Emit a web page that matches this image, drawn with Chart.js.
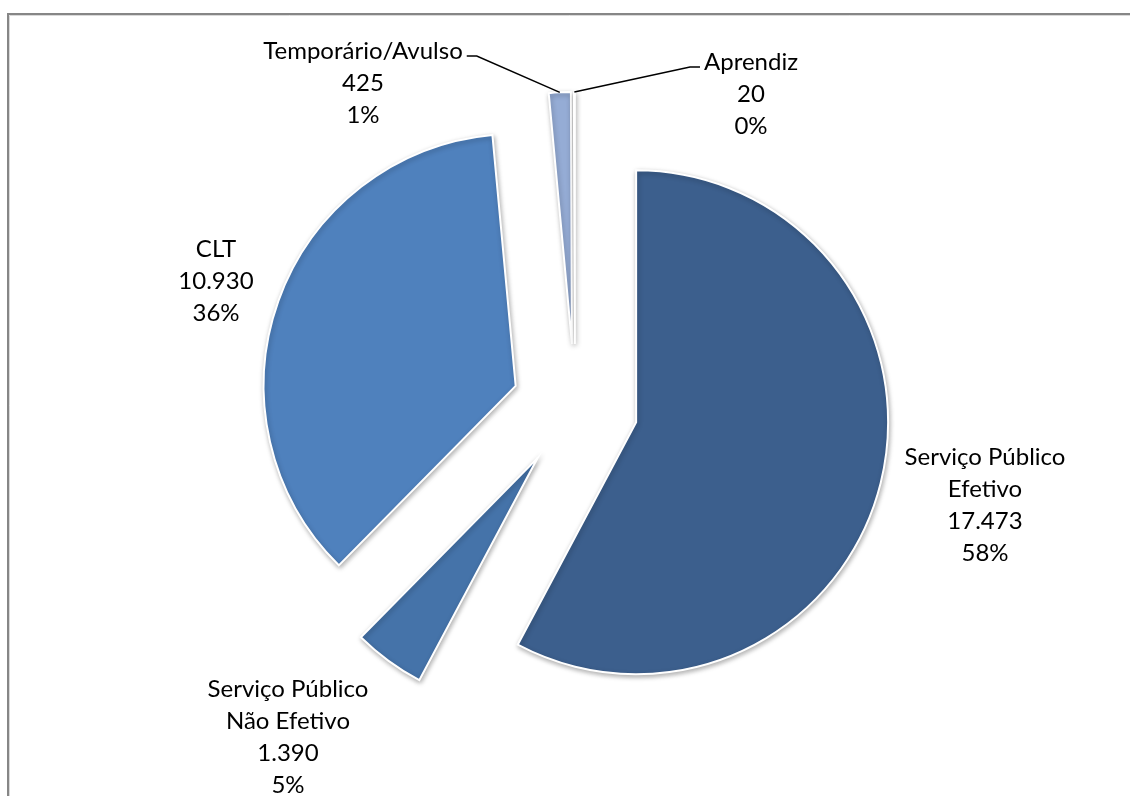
<!DOCTYPE html>
<html lang="pt">
  <head>
    <meta charset="UTF-8" />
    <title>Vínculos</title>
    <script src="https://cdn.jsdelivr.net/npm/chart.js"></script>
    <style>
      body {
        margin: 0;
        background: #fff;
      }
      #pieChart {
        display: block;
      }
    </style>
  </head>
  <body>
    <canvas id="pieChart" width="1130" height="796"></canvas>

    <script>
      // data
      const categories = [
        ["Serviço Público", "Efetivo"],
        ["Serviço Público", "Não Efetivo"],
        ["CLT"],
        ["Temporário/Avulso"],
        ["Aprendiz"],
      ];
      const values = [17473, 1390, 10930, 425, 20];
      const sliceColors = ["#3C5F8D", "#4573A9", "#4F81BD", "#95ACD5", "#B4C4E2"];

      // label placement, relative to the pie centre (block centre)
      const labelOffsets = [
        [410, 98],
        [-287, 330],
        [-359, -126],
        [-212, -324],
        [176, -313],
      ];
      const leaderSide = [0, 0, 0, -1, 1]; // -1 text left of slice, 1 right
      const EXPLODE = 63;
      const LINE_H = 32;
      const FONT = '24px Lato, "Open Sans", sans-serif';

      function fmt(v) {
        return String(v).replace(/\B(?=(\d{3})+(?!\d))/g, ".");
      }

      const frame = {
        id: "frame",
        beforeDraw(chart) {
          const ctx = chart.ctx;
          ctx.save();
          ctx.strokeStyle = "#d9d9d9";
          ctx.lineWidth = 1;
          ctx.beginPath();
          ctx.moveTo(9.5, 796);
          ctx.lineTo(9.5, 15.5);
          ctx.lineTo(1130, 15.5);
          ctx.stroke();
          ctx.strokeStyle = "#868686";
          ctx.lineWidth = 2;
          ctx.beginPath();
          ctx.moveTo(8, 796);
          ctx.lineTo(8, 14);
          ctx.lineTo(1130, 14);
          ctx.stroke();
          ctx.restore();
        },
      };

      const explode = {
        id: "explode",
        beforeDatasetDraw(chart, args) {
          const ctx = chart.ctx;
          args.meta.data.forEach((arc) => {
            const mid = (arc.startAngle + arc.endAngle) / 2;
            ctx.save();
            ctx.translate(Math.cos(mid) * EXPLODE, Math.sin(mid) * EXPLODE);
            ctx.shadowColor = "rgba(0,0,0,0.30)";
            ctx.shadowBlur = 5;
            ctx.shadowOffsetX = 1;
            ctx.shadowOffsetY = 2;
            arc.draw(ctx);
            ctx.restore();
          });
          return false;
        },
      };

      const labels = {
        id: "labels",
        afterDatasetsDraw(chart) {
          const ctx = chart.ctx;
          const meta = chart.getDatasetMeta(0);
          const total = values.reduce((a, b) => a + b, 0);
          ctx.save();
          ctx.font = FONT;
          ctx.fillStyle = "#000";
          ctx.textAlign = "center";
          ctx.textBaseline = "middle";
          meta.data.forEach((arc, i) => {
            const lines = categories[i].concat([
              fmt(values[i]),
              Math.round((values[i] / total) * 100) + "%",
            ]);
            const cx = arc.x + labelOffsets[i][0];
            const cy = arc.y + labelOffsets[i][1];
            const y0 = cy - ((lines.length - 1) * LINE_H) / 2;
            lines.forEach((t, k) => ctx.fillText(t, cx, y0 + k * LINE_H));

            if (leaderSide[i]) {
              const mid = (arc.startAngle + arc.endAngle) / 2;
              const r = arc.outerRadius + EXPLODE;
              const sx = arc.x + Math.cos(mid) * r;
              const sy = arc.y + Math.sin(mid) * r;
              const halfW = ctx.measureText(lines[0]).width / 2;
              const side = leaderSide[i];
              const edge = cx - side * (halfW + 4);
              const ly = y0 + 5;
              ctx.strokeStyle = "#000";
              ctx.lineWidth = 1.5;
              ctx.beginPath();
              ctx.moveTo(sx, sy);
              ctx.lineTo(edge - side * 10, ly);
              ctx.lineTo(edge, ly);
              ctx.stroke();
            }
          });
          ctx.restore();
        },
      };

      new Chart(document.getElementById("pieChart"), {
        type: "pie",
        data: {
          labels: categories.map((c) => c.join(" ")),
          datasets: [
            {
              data: values,
              backgroundColor: sliceColors,
              borderColor: "#ffffff",
              borderWidth: 2,
              borderJoinStyle: "miter",
            },
          ],
        },
        options: {
          responsive: false,
          animation: false,
          devicePixelRatio: 1,
          events: [],
          radius: 252,
          layout: { padding: { left: 20, right: 0, top: 18, bottom: 0 } },
          plugins: {
            legend: { display: false },
            tooltip: { enabled: false },
          },
        },
        plugins: [frame, explode, labels],
      });
    </script>
  </body>
</html>
